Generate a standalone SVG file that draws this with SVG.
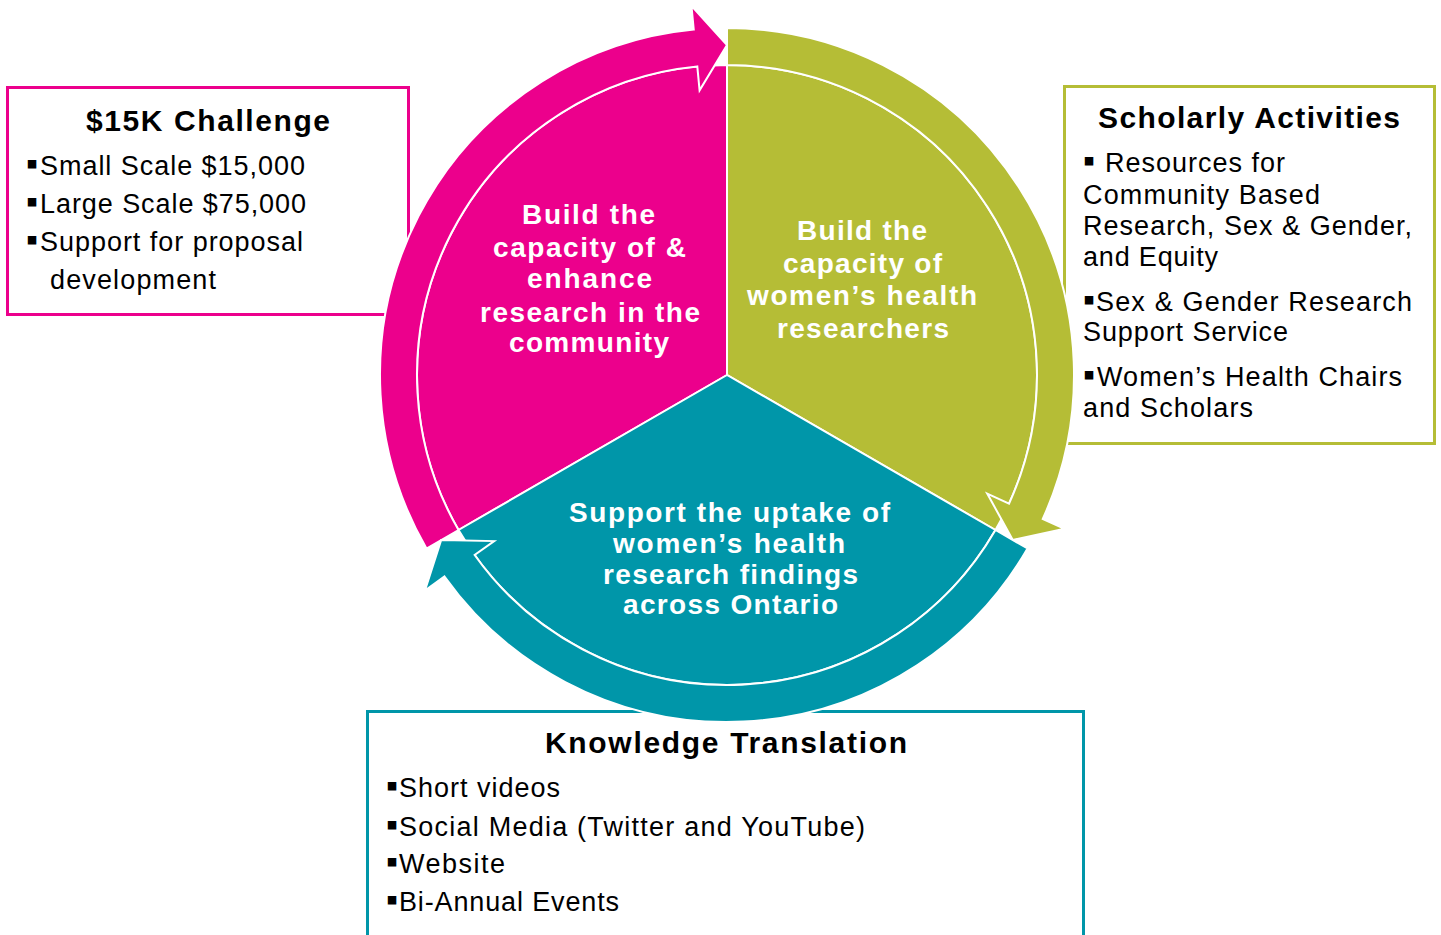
<svg xmlns="http://www.w3.org/2000/svg" xmlns:xlink="http://www.w3.org/1999/xlink" width="1441" height="935" viewBox="0 0 1441 935">
  <style>
    .box { fill: #ffffff; stroke-width: 3; }
    .ttl { font-family: "Liberation Sans", Arial, sans-serif; font-weight: bold; font-size: 30px; fill: #000000; }
    .itm { font-family: "Liberation Sans", Arial, sans-serif; font-size: 27px; fill: #000000; }
    .bul { font-size: 34px; }
    .seg { stroke: #ffffff; stroke-width: 2; stroke-linejoin: miter; }
    .lbl { font-family: "Liberation Sans", Arial, sans-serif; font-weight: bold; font-size: 28px; fill: #ffffff; }
    .pink { fill: #EC008C; }
    .olive { fill: #B5BD36; }
    .teal { fill: #0096A9; }
  </style>
  <defs>
    <!-- 120 degree pie slice, inner radius 310, drawn for the top-left position -->
    <path id="wedge" d="M0,0 L0,-310 A310,310 0 0 0 -268.47,155 Z"/>
    <!-- curved band (r 310..347) running clockwise from 210deg to the arrow tip at 90deg -->
    <path id="cycleArrow" d="M-300.51,173.5 A347,347 0 0 1 -33.26,-345.40 L-35.56,-369.29 L0,-330 L-27.41,-284.68 L-29.71,-308.57 A310,310 0 0 0 -268.47,155 Z"/>
  </defs>

  <rect width="1441" height="935" fill="#ffffff"/>

  <!-- side panels -->
  <g id="box-challenge">
    <rect class="box" x="7.5" y="87.5" width="401" height="227" stroke="#EC008C"/>
    <text class="ttl" x="86" y="131" textLength="244">$15K Challenge</text>
    <text class="itm" y="175"><tspan class="bul" x="26">▪</tspan><tspan x="40" textLength="265">Small Scale $15,000</tspan></text>
    <text class="itm" y="213"><tspan class="bul" x="26">▪</tspan><tspan x="40" textLength="266">Large Scale $75,000</tspan></text>
    <text class="itm" y="251"><tspan class="bul" x="26">▪</tspan><tspan x="40" textLength="263">Support for proposal</tspan></text>
    <text class="itm" x="50" y="289" textLength="166">development</text>
  </g>

  <g id="box-scholarly">
    <rect class="box" x="1064.5" y="86.5" width="370" height="357" stroke="#B5BD36"/>
    <text class="ttl" x="1098" y="128" textLength="302">Scholarly Activities</text>
    <text class="itm" y="172"><tspan class="bul" x="1083">▪</tspan><tspan x="1105" textLength="180">Resources for</tspan></text>
    <text class="itm" x="1083" y="204" textLength="237">Community Based</text>
    <text class="itm" x="1083" y="235" textLength="329">Research, Sex &amp; Gender,</text>
    <text class="itm" x="1083" y="266" textLength="135">and Equity</text>
    <text class="itm" y="311"><tspan class="bul" x="1083">▪</tspan><tspan x="1096" textLength="316">Sex &amp; Gender Research</tspan></text>
    <text class="itm" x="1083" y="341" textLength="205">Support Service</text>
    <text class="itm" y="386"><tspan class="bul" x="1083">▪</tspan><tspan x="1097" textLength="305">Women’s Health Chairs</tspan></text>
    <text class="itm" x="1083" y="417" textLength="170">and Scholars</text>
  </g>

  <g id="box-knowledge">
    <rect class="box" x="367.5" y="711.5" width="716" height="250" stroke="#0096A9"/>
    <text class="ttl" x="545" y="753" textLength="362">Knowledge Translation</text>
    <text class="itm" y="797"><tspan class="bul" x="386">▪</tspan><tspan x="399" textLength="161">Short videos</tspan></text>
    <text class="itm" y="836"><tspan class="bul" x="386">▪</tspan><tspan x="399" textLength="466">Social Media (Twitter and YouTube)</tspan></text>
    <text class="itm" y="873"><tspan class="bul" x="386">▪</tspan><tspan x="399" textLength="106">Website</tspan></text>
    <text class="itm" y="911"><tspan class="bul" x="386">▪</tspan><tspan x="399" textLength="220">Bi-Annual Events</tspan></text>
  </g>

  <!-- cycle segments -->
  <g id="seg-community">
    <use xlink:href="#wedge" class="seg pink" transform="translate(727,375)"/>
    <text class="lbl">
      <tspan x="522" y="224" textLength="133">Build the</tspan>
      <tspan x="493" y="257" textLength="193">capacity of &amp;</tspan>
      <tspan x="527" y="288" textLength="125">enhance</tspan>
      <tspan x="480" y="322" textLength="220">research in the</tspan>
      <tspan x="509" y="352" textLength="160">community</tspan>
    </text>
  </g>

  <g id="seg-researchers">
    <use xlink:href="#wedge" class="seg olive" transform="translate(727,375) rotate(120)"/>
    <text class="lbl">
      <tspan x="797" y="240" textLength="130">Build the</tspan>
      <tspan x="783" y="273" textLength="159">capacity of</tspan>
      <tspan x="747" y="305" textLength="230">women’s health</tspan>
      <tspan x="777" y="338" textLength="172">researchers</tspan>
    </text>
  </g>

  <g id="seg-uptake">
    <use xlink:href="#wedge" class="seg teal" transform="translate(727,375) rotate(240)"/>
    <text class="lbl">
      <tspan x="569" y="522" textLength="321">Support the uptake of</tspan>
      <tspan x="613" y="553" textLength="232">women’s health</tspan>
      <tspan x="603" y="584" textLength="255">research findings</tspan>
      <tspan x="623" y="614" textLength="215">across Ontario</tspan>
    </text>
  </g>

  <!-- circular arrows linking the segments -->
  <g id="connectors">
    <use xlink:href="#cycleArrow" class="seg pink" transform="translate(727,375)"/>
    <use xlink:href="#cycleArrow" class="seg olive" transform="translate(727,375) rotate(120)"/>
    <use xlink:href="#cycleArrow" class="seg teal" transform="translate(727,375) rotate(240)"/>
  </g>
</svg>
